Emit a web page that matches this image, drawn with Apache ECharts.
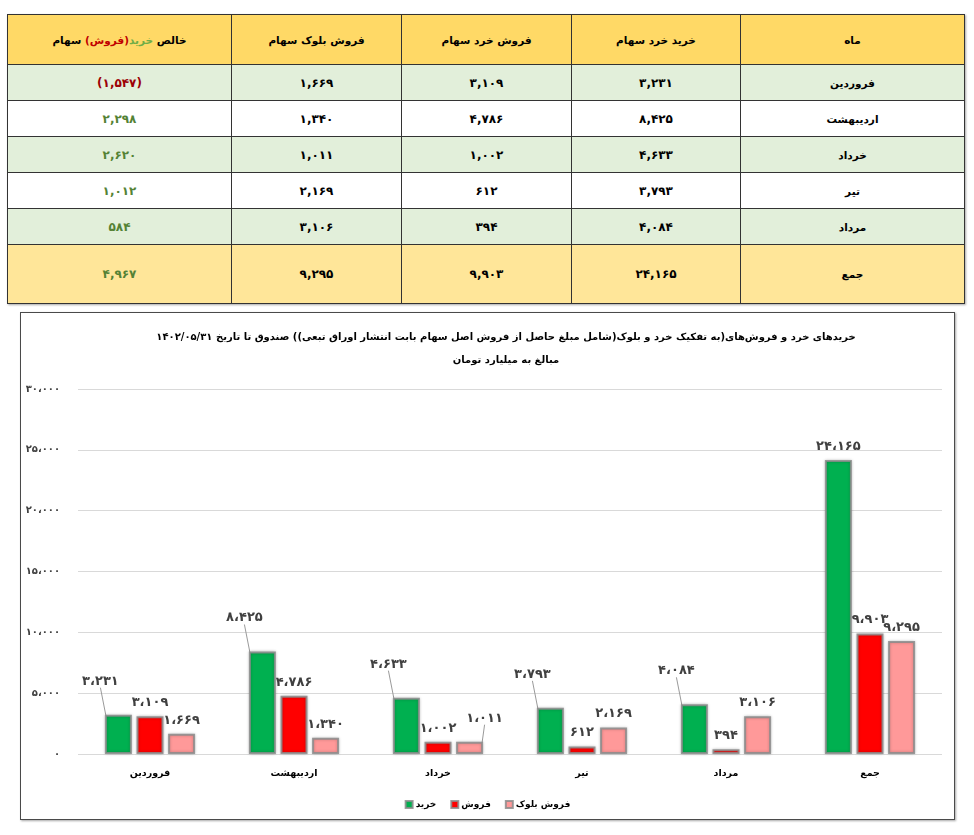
<!DOCTYPE html>
<html lang="fa">
<head>
<meta charset="utf-8">
<title>خرید و فروش سهام</title>
<script src="https://cdn.jsdelivr.net/npm/echarts@6/dist/echarts.min.js"></script>
<style>
  body { margin: 0; background: #fff; font-family: 'DejaVu Sans', sans-serif; }
  #summary-table {
    position: absolute; left: 7px; top: 14px; width: 957px;
    border-collapse: collapse; table-layout: fixed; direction: rtl;
    font-weight: bold; font-size: 10.5px; color: #000;
    box-shadow: 1px 1px 2px rgba(0,0,0,0.35);
  }
  #summary-table td, #summary-table th { border: 1px solid #333; text-align: center; padding: 0; }
  #summary-table td.num { font-size: 12px; }
  #summary-table th { background: #FFD966; height: 49px; }
  #summary-table tr.odd td { background: #E2EFDA; height: 35px; }
  #summary-table tr.even td { background: #fff; height: 35px; }
  #summary-table tr.total td { background: #FFE699; height: 58px; }
  .pos { color: #548235; }
  .neg { color: #9C0006; }
  #chart-box {
    position: absolute; left: 20px; top: 312px; width: 935px; height: 508px;
    box-sizing: border-box; border: 1px solid #4a4a4a;
    box-shadow: 1px 1px 2px rgba(0,0,0,0.35);
  }
  #echarts-trades { width: 100%; height: 100%; }
</style>
</head>
<body>
<table id="summary-table">
  <colgroup>
    <col style="width:224px"><col style="width:169px"><col style="width:170px"><col style="width:170px"><col style="width:224px">
  </colgroup>
  <thead>
    <tr>
      <th>ماه</th>
      <th>خرید خرد سهام</th>
      <th>فروش خرد سهام</th>
      <th>فروش بلوک سهام</th>
      <th>خالص <span style="color:#70AD47">خرید</span><span style="color:#C00000">(فروش)</span> سهام</th>
    </tr>
  </thead>
  <tbody id="summary-body"></tbody>
</table>
<div id="chart-box"><div id="echarts-trades"></div></div>
<script>
//----------------------Data----------------------
let categories = ['فروردین', 'اردیبهشت', 'خرداد', 'تیر', 'مرداد', 'جمع'];
let buy_values = [3231, 8425, 4633, 3793, 4084, 24165];
let sell_values = [3109, 4786, 1002, 612, 394, 9903];
let block_values = [1669, 1340, 1011, 2169, 3106, 9295];
let net_values = [-1547, 2298, 2620, 1012, 584, 4967];
let series_names = ['خرید', 'فروش', 'فروش بلوک'];
let y_ticks = [0, 5000, 10000, 15000, 20000, 25000, 30000];
let chart_title = 'خریدهای خرد و فروش‌های(به تفکیک خرد و بلوک(شامل مبلغ حاصل از فروش اصل سهام بابت انتشار اوراق تبعی)) صندوق تا تاریخ ۱۴۰۲/۰۵/۳۱\nمبالغ به میلیارد تومان';

// persian digits, with a chosen thousands separator
function to_fa(num, sep) {
    let s = Math.abs(num).toLocaleString('en-US').replace(/,/g, sep);
    return s.replace(/\d/g, function (d) { return '۰۱۲۳۴۵۶۷۸۹'[d]; });
}

//----------------------Table----------------------
let tbody = document.getElementById('summary-body');
for (let i = 0; i < categories.length; i++) {
    let tr = document.createElement('tr');
    tr.className = i === categories.length - 1 ? 'total' : (i % 2 === 0 ? 'odd' : 'even');
    let net_txt = net_values[i] < 0 ? '(' + to_fa(net_values[i], ',') + ')' : to_fa(net_values[i], ',');
    let cells = [categories[i], to_fa(buy_values[i], ','), to_fa(sell_values[i], ','), to_fa(block_values[i], ',')];
    cells.forEach(function (c, k) {
        let td = document.createElement('td');
        td.textContent = c;
        if (k > 0) td.className = 'num';
        tr.appendChild(td);
    });
    let td_net = document.createElement('td');
    td_net.textContent = net_txt;
    td_net.className = 'num ' + (net_values[i] < 0 ? 'neg' : 'pos');
    tr.appendChild(td_net);
    tbody.appendChild(tr);
}

//----------------------Chart----------------------
let trades_chart = echarts.init(document.getElementById('echarts-trades'));
let font_fa = 'DejaVu Sans';
let label_style = {
    show: true,
    position: 'top',
    distance: 7,
    fontFamily: font_fa,
    fontWeight: 'bold',
    fontSize: 13,
    color: '#404040',
    formatter: function (p) { return to_fa(p.value, '،'); }
};
let bar_item = function (color) {
    return {
        color: color,
        borderColor: 'rgba(140,140,140,0.85)',
        borderWidth: 2,
        shadowBlur: 3,
        shadowColor: 'rgba(0,0,0,0.25)'
    };
};
let guide_line = {show: false, length2: 0, lineStyle: {color: '#9a9a9a', width: 1}};

let trades_option = {
    backgroundColor: '#fff',
    animation: false,
    title: {
        text: chart_title,
        left: 485,
        top: 13,
        padding: 0,
        textAlign: 'center',
        textStyle: {fontFamily: font_fa, fontWeight: 'bold', fontSize: 10, lineHeight: 23, color: '#000'}
    },
    legend: {
        data: series_names,
        left: 'center',
        top: 487,
        padding: 0,
        itemWidth: 7,
        itemHeight: 7,
        itemGap: 14,
        icon: 'rect',
        textStyle: {fontFamily: font_fa, fontWeight: 'bold', fontSize: 9, color: '#000', padding: [0, 0, 0, -2]}
    },
    grid: {left: 57, right: 12, top: 76, bottom: 65},
    xAxis: {
        type: 'category',
        data: categories,
        axisLine: {show: false},
        axisTick: {show: false},
        axisLabel: {margin: 15, fontFamily: font_fa, fontWeight: 'bold', fontSize: 9.5, color: '#000'}
    },
    yAxis: {
        type: 'value',
        min: y_ticks[0],
        max: y_ticks[y_ticks.length - 1],
        interval: y_ticks[1] - y_ticks[0],
        axisLine: {show: false},
        axisTick: {show: false},
        splitLine: {lineStyle: {color: '#D9D9D9', width: 1}},
        axisLabel: {
            margin: 18, fontFamily: font_fa, fontWeight: 'bold', fontSize: 10, color: '#404040',
            formatter: function (v) { return to_fa(v, '،'); }
        }
    },
    series: [
        {
            name: series_names[0], type: 'bar', barWidth: 27, barGap: '17%',
            itemStyle: bar_item('#00B050'),
            label: label_style,
            labelLine: guide_line,
            labelLayout: function (p) { return p.dataIndex < 5 ? {dx: -18, dy: -20} : {}; },
            data: buy_values.map(function (v, i) { return {value: v, labelLine: {show: i < 5}}; })
        },
        {
            name: series_names[1], type: 'bar', barWidth: 27, barGap: '17%',
            itemStyle: bar_item('#FF0000'),
            label: label_style,
            data: sell_values
        },
        {
            name: series_names[2], type: 'bar', barWidth: 27, barGap: '17%',
            itemStyle: bar_item('#FF9999'),
            label: label_style,
            labelLine: guide_line,
            labelLayout: function (p) { return p.dataIndex === 2 ? {dx: 15, dy: -10} : {}; },
            data: block_values.map(function (v, i) { return {value: v, labelLine: {show: i === 2}}; })
        }
    ]
};
if (trades_option && typeof trades_option === 'object') {
    trades_chart.setOption(trades_option, true);
}
</script>
</body>
</html>
